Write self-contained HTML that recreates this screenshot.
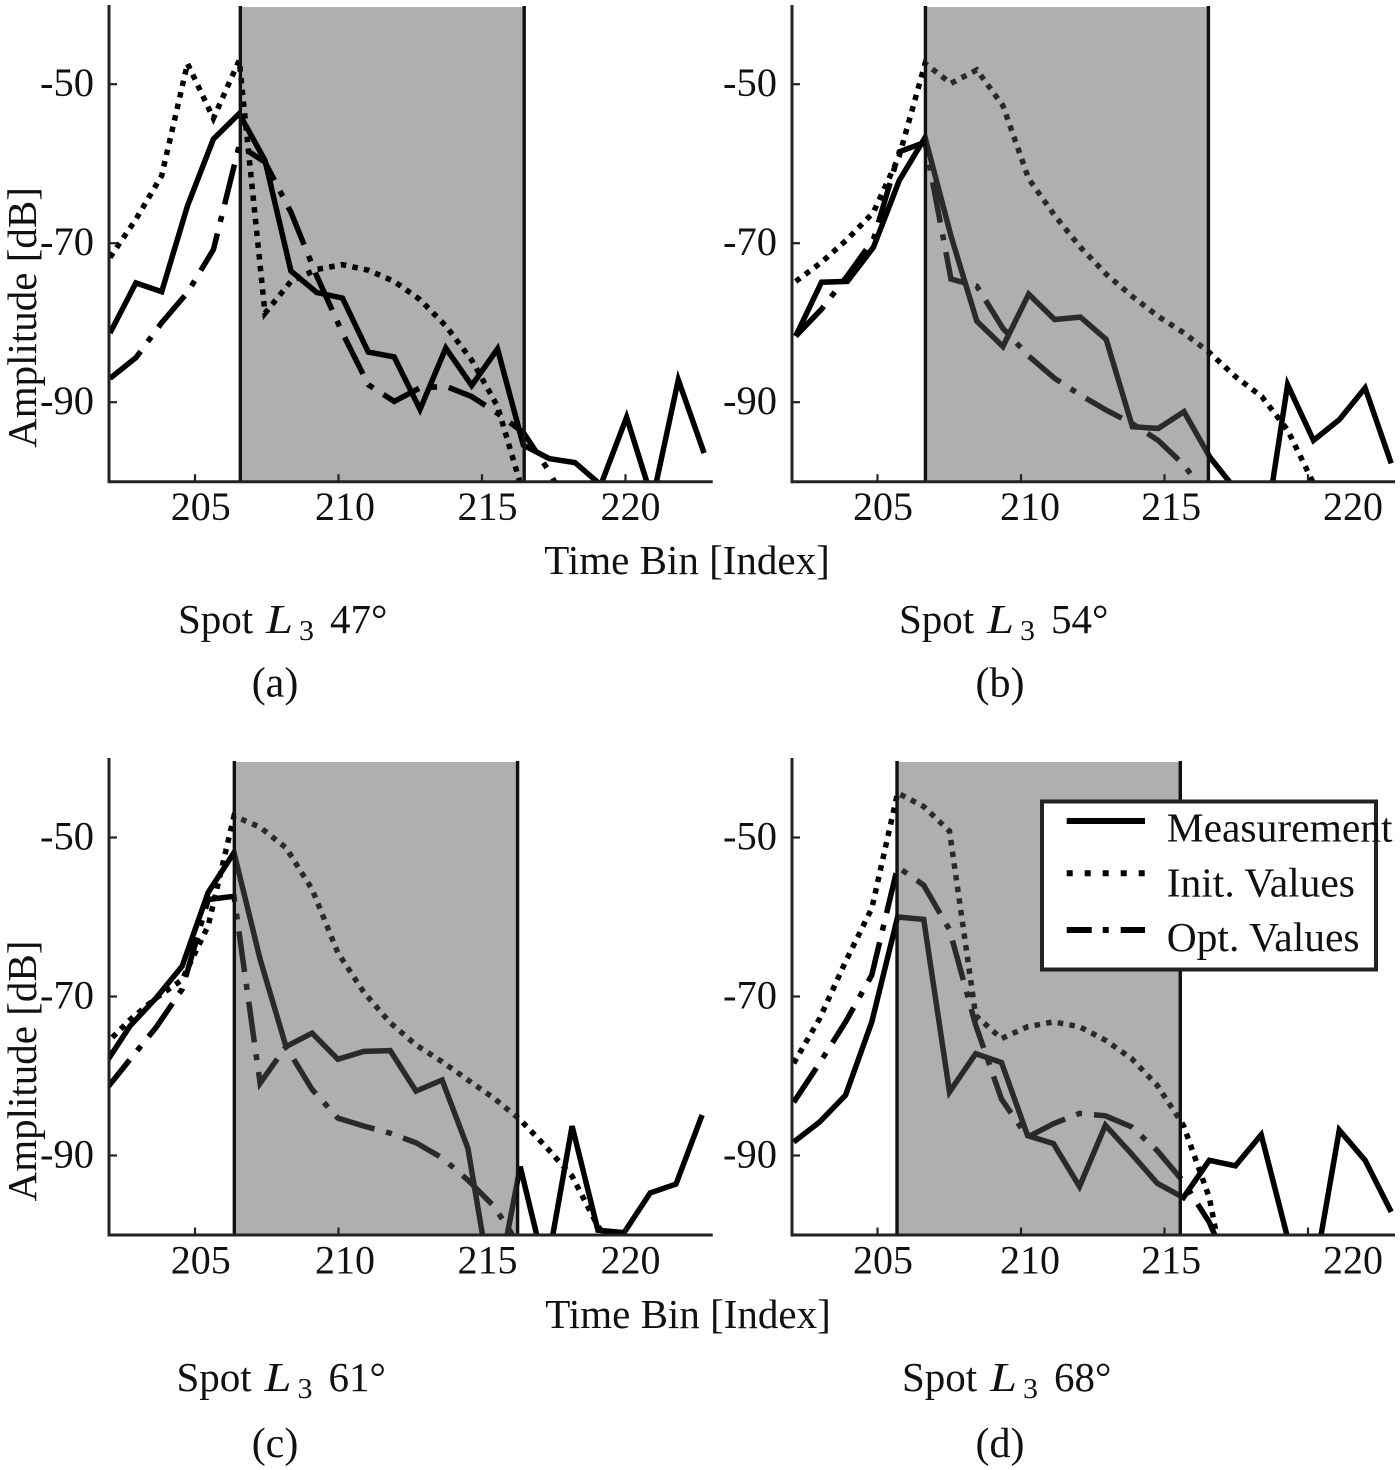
<!DOCTYPE html>
<html>
<head>
<meta charset="utf-8">
<title>Amplitude vs Time Bin</title>
<style>
html,body{margin:0;padding:0;background:#fff;}
svg{display:block;}
text{font-family:"Liberation Serif",serif;fill:#111;}
</style>
</head>
<body>
<svg id="chart" xmlns="http://www.w3.org/2000/svg" width="1400" height="1470" viewBox="0 0 1400 1470"></svg>
<script>
const xTicks = [205, 210, 215, 220];
const yTicks = [-50, -70, -90];

const binsA = [202.04,202.94,203.84,204.74,205.64,206.54,207.44,208.34,209.24,210.14,211.04,211.94,212.84,213.74,214.64,215.54,216.44,217.34,218.24,219.14,220.04,220.94,221.84,222.74];
const measA = [-81.3,-75.0,-76.1,-65.3,-56.9,-53.7,-59.6,-73.5,-76.2,-76.9,-83.7,-84.3,-90.9,-83.2,-87.9,-83.3,-95.4,-97.1,-97.6,-100.4,-91.9,-102.3,-87.2,-96.4];
const initA = [-71.8,-67,-61.5,-47.4,-54.3,-47,-78.8,-74.8,-73.3,-72.7,-73.4,-74.8,-77.1,-80.4,-84.7,-90.5,-101.5,-112];
const optA = [-87,-84.4,-80,-76.2,-70.8,-57.7,-59.8,-66.1,-74.1,-81.3,-87.8,-89.9,-88.2,-88,-89.3,-91.4,-93.8,-98.7,-105];

const binsB = [202.15,203.05,203.95,204.86,205.76,206.66,207.56,208.46,209.37,210.27,211.17,212.07,212.97,213.88,214.78,215.68,216.58,217.48,218.39,219.29,220.19,221.09,221.99,222.90];
const measB = [-81.7,-74.9,-74.8,-70.5,-62.1,-56.7,-69.1,-79.8,-83,-76.4,-79.6,-79.3,-82.1,-93.1,-93.3,-91.2,-96.9,-101,-108.9,-87.8,-94.8,-92.2,-88.2,-97.7];
const initB = [-74.8,-72.4,-69.5,-66.1,-59,-47.4,-49.9,-48.2,-52.7,-61.9,-66.5,-70.5,-73.9,-76.7,-79.2,-81.3,-83.8,-86.8,-89.3,-93.5,-100.2,-106];
const optB = [-81.7,-78.3,-74.1,-69.5,-58.5,-57.3,-74.5,-75.4,-80.7,-84.2,-87,-89.1,-91,-92.7,-94.8,-97.9,-102.3,-108];

const binsC = [201.83,202.74,203.64,204.55,205.46,206.36,207.27,208.17,209.08,209.98,210.89,211.80,212.70,213.61,214.51,215.42,216.33,217.23,218.14,219.04,219.95,220.86,221.76,222.67];
const measC = [-78.7,-73.7,-70.2,-66.2,-56.9,-51.9,-65.3,-76.3,-74.6,-77.9,-76.9,-76.8,-81.9,-80.5,-89.1,-108.6,-91.4,-104.8,-86.3,-99.4,-99.7,-94.7,-93.6,-84.9];
const initC = [-76.2,-72.9,-70.2,-67.9,-61.1,-47.3,-48.7,-51.3,-56.5,-64.5,-69.5,-73.3,-76.1,-78.2,-80.5,-82.8,-85.5,-88.9,-92.6,-98.9,-103];
const optC = [-82,-77.9,-73.9,-69.1,-57.8,-57.4,-80.9,-76.3,-81.7,-85.3,-86.3,-87.2,-88.4,-90.3,-93.1,-96.4,-101.5,-106];

const binsD = [202.08,202.98,203.89,204.80,205.70,206.61,207.51,208.42,209.32,210.23,211.13,212.04,212.94,213.85,214.75,215.66,216.56,217.47,218.37,219.28,220.18,221.09,221.99,222.90];
const measD = [-88.3,-85.8,-82.4,-73.2,-60,-60.3,-82,-77.2,-78.3,-87.5,-88.5,-93.9,-86.2,-89.8,-93.5,-95.3,-90.6,-91.3,-87.4,-100.2,-105.7,-86.8,-90.6,-97.1];
const initD = [-78.4,-72.8,-65.6,-58.9,-44.4,-46.1,-49.2,-72.4,-75.3,-73.8,-73.2,-73.8,-75.5,-77.8,-81.2,-86.2,-95.3,-112];
const optD = [-83.3,-78.4,-73.2,-67.3,-53.7,-56,-61.6,-73.6,-82.9,-87.7,-86,-84.7,-85,-86.4,-89.4,-93.3,-98.4,-106];

const windowA = [206.58, 216.47];
const windowB = [206.67, 216.53];
const windowC = [206.37, 216.24];
const windowD = [205.68, 215.55];

const NS = 'http://www.w3.org/2000/svg';
const svg = document.getElementById('chart');
const PX_PER_BIN = 28.7;
const PX_PER_DB = 7.95;

function mk(parent, tag, attrs, txt) {
  const el = document.createElementNS(NS, tag);
  for (const k in attrs) el.setAttribute(k, attrs[k]);
  if (txt !== undefined) el.textContent = txt;
  parent.appendChild(el);
  return el;
}

function drawPanel(p) {
  const xs = v => p.x205 + (v - 205) * PX_PER_BIN;
  const ys = v => p.bottom - (v + 100) * PX_PER_DB;
  const g = mk(svg, 'g', {});
  
  

  const defs = mk(g, 'defs', {});
  const cp = mk(defs, 'clipPath', {id: 'clip-' + p.id});
  mk(cp, 'rect', {x: p.left, y: p.top, width: p.right - p.left, height: p.bottom - p.top});

  function drawShade() {
    const shade = mk(g, 'rect', {
      x: xs(p.win[0]), y: p.shadeTop, width: xs(p.win[1]) - xs(p.win[0]), height: p.bottom - p.shadeTop,
      fill: '#575757', 'fill-opacity': 0.48
    });
    
    
  }

  if (!p.shadeOnTop) {
    drawShade();
  }

  const seriesList = [
    {key: 'measurement', vals: p.meas, dash: 'none'},
    {key: 'init-values', vals: p.init, dash: '5.5 6.3'},
    {key: 'opt-values', vals: p.opt, dash: '41 12 6 12'}
  ];
  seriesList.forEach(function (s) {
    const pts = s.vals.map(function (v, i) { return xs(p.bins[i]).toFixed(1) + ',' + ys(v).toFixed(1); }).join(' ');
    const line = mk(g, 'polyline', {
      points: pts, fill: 'none', stroke: '#000', 'stroke-width': 5.5,
      'stroke-dasharray': s.dash, 'clip-path': 'url(#clip-' + p.id + ')', 'stroke-linejoin': 'miter'
    });
    
    
  });

  if (p.shadeOnTop) {
    drawShade();
  }

  p.win.forEach(function (w, i) {
    const b = mk(g, 'line', {x1: xs(w), x2: xs(w), y1: p.shadeTop - 1, y2: p.bottom, stroke: '#111', 'stroke-width': 3.4});
    
    
  });

  const yAxis = mk(g, 'line', {x1: p.left, x2: p.left, y1: p.top, y2: p.bottom + 1.5, stroke: '#222', 'stroke-width': 3});
  
  
  const xAxis = mk(g, 'line', {x1: p.left, x2: p.right, y1: p.bottom, y2: p.bottom, stroke: '#222', 'stroke-width': 3});
  
  

  xTicks.forEach(function (t, i) {
    const tk = mk(g, 'line', {x1: xs(t), x2: xs(t), y1: p.bottom, y2: p.bottom - 7.5, stroke: '#222', 'stroke-width': 2.2});
    
    
    const lb = mk(g, 'text', {x: xs(t) + p.labelShift[i], y: p.bottom + 38.3, 'text-anchor': 'middle', 'font-size': 40}, String(t));
    
    
  });
  yTicks.forEach(function (t) {
    const tk = mk(g, 'line', {x1: p.left, x2: p.left + 8, y1: ys(t), y2: ys(t), stroke: '#222', 'stroke-width': 2.2});
    
    
    const lb = mk(g, 'text', {x: p.left - 15, y: ys(t) + 12, 'text-anchor': 'end', 'font-size': 40.5}, String(t));
    
    
  });

  const cap = mk(g, 'g', {});
  
  
  mk(cap, 'text', {x: p.capX, y: p.capY, 'font-size': 41}, 'Spot');
  mk(cap, 'text', {x: p.capX + 88, y: p.capY, 'font-size': 41, 'font-style': 'italic', textLength: 27, lengthAdjust: 'spacingAndGlyphs'}, 'L');
  mk(cap, 'text', {x: p.capX + 121, y: p.capY + 7, 'font-size': 28, textLength: 15, lengthAdjust: 'spacingAndGlyphs'}, '3');
  mk(cap, 'text', {x: p.capX + 152, y: p.capY, 'font-size': 41}, p.angle + '°');

  const sub = mk(g, 'text', {x: p.subX, y: p.subY, 'text-anchor': 'middle', 'font-size': 42}, '(' + p.id + ')');
  
  
}

drawPanel({id: 'a', left: 109, right: 712.7, top: 5, shadeTop: 7, bottom: 481.7, x205: 195, labelShift: [5.8, 6.5, 5.5, 5], bins: binsA, meas: measA, init: initA, opt: optA, win: windowA, shadeOnTop: false, capX: 178, capY: 633, subX: 275, subY: 696.5, angle: 47});
drawPanel({id: 'b', left: 792, right: 1395, top: 5, shadeTop: 7, bottom: 481.7, x205: 877.5, labelShift: [5.5, 9, 6.6, 45], bins: binsB, meas: measB, init: initB, opt: optB, win: windowB, shadeOnTop: true, capX: 899, capY: 633, subX: 1000, subY: 696.5, angle: 54});
drawPanel({id: 'c', left: 109, right: 712.7, top: 758, shadeTop: 762, bottom: 1235, x205: 195, labelShift: [5.8, 6.5, 5.5, 5], bins: binsC, meas: measC, init: initC, opt: optC, win: windowC, shadeOnTop: true, capX: 176.5, capY: 1391, subX: 275, subY: 1457, angle: 61});
drawPanel({id: 'd', left: 792, right: 1395, top: 758, shadeTop: 762, bottom: 1235, x205: 877.5, labelShift: [5.5, 9, 6.6, 45], bins: binsD, meas: measD, init: initD, opt: optD, win: windowD, shadeOnTop: true, capX: 902, capY: 1391, subX: 1000, subY: 1457, angle: 68});

[[687, 574], [688, 1328]].forEach(function (c) {
  const t = mk(svg, 'text', {x: c[0], y: c[1], 'text-anchor': 'middle', 'font-size': 41}, 'Time Bin [Index]');
  
  
});
[[36, 317.5], [36, 1071]].forEach(function (c) {
  const t = mk(svg, 'text', {x: c[0], y: c[1], 'text-anchor': 'middle', 'font-size': 41, transform: 'rotate(-90 ' + c[0] + ' ' + c[1] + ')'}, 'Amplitude [dB]');
  
  
});

const legend = mk(svg, 'g', {});


const legendBox = mk(legend, 'rect', {x: 1042, y: 801.5, width: 334, height: 168, fill: '#fff', stroke: '#222', 'stroke-width': 4});


const legendLabels = ['Measurement', 'Init. Values', 'Opt. Values'];
const legendDashes = ['none', '6 12', '25 11 6 12'];
const legendSwatchRows = [821, 873.3, 930];
const legendTextRows = [841.7, 896.7, 951];
legendLabels.forEach(function (label, i) {
  const sw = mk(legend, 'line', {x1: 1066.7, x2: 1145, y1: legendSwatchRows[i], y2: legendSwatchRows[i], stroke: '#000', 'stroke-width': 6, 'stroke-dasharray': legendDashes[i]});
  
  
  const tx = mk(legend, 'text', {x: 1166.7, y: legendTextRows[i], 'font-size': 41.5}, label);
  
  
});
</script>
</body>
</html>
